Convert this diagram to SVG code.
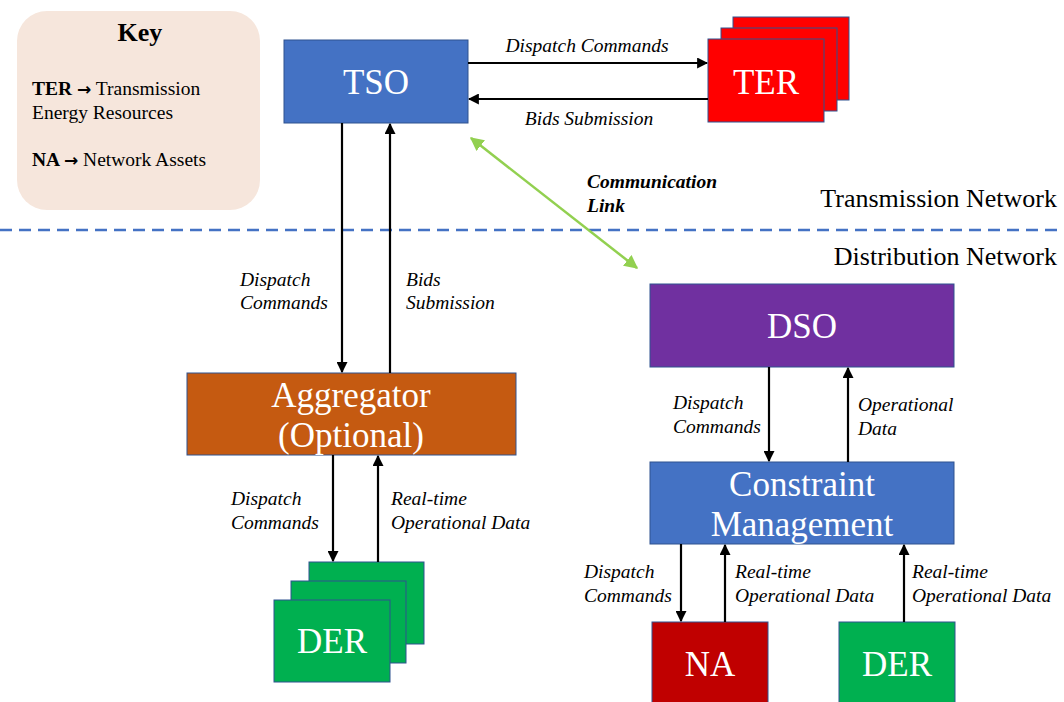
<svg xmlns="http://www.w3.org/2000/svg" width="1064" height="702" viewBox="0 0 1064 702">
<defs>
<marker id="ah" viewBox="0 0 10 10" refX="9" refY="5" markerWidth="5" markerHeight="5" orient="auto-start-reverse" markerUnits="strokeWidth"><path d="M0,0 L10,5 L0,10 z" fill="#000"/></marker>
<marker id="gh" viewBox="0 0 10 10" refX="9" refY="5" markerWidth="5.5" markerHeight="5.5" orient="auto-start-reverse" markerUnits="strokeWidth"><path d="M0,0 L10,5 L0,10 z" fill="#92D050"/></marker>
<style>
.box{stroke:#2F528F;stroke-width:1}
.nt{font-family:"Liberation Serif","Times New Roman",serif;font-size:35px;fill:#fff;text-anchor:middle}
.lb{font-family:"Liberation Serif","Times New Roman",serif;font-size:19.5px;font-style:italic;fill:#000}
.ar{stroke:#000;stroke-width:2.2;fill:none;marker-end:url(#ah)}
.kt{font-family:"Liberation Serif","Times New Roman",serif;font-size:19.5px;fill:#000}
.kb{font-family:"DejaVu Sans",sans-serif;font-weight:bold;font-size:17px}
.nw{font-family:"Liberation Serif","Times New Roman",serif;font-size:26px;fill:#000;text-anchor:end}
</style>
</defs>
<rect width="1064" height="702" fill="#fff"/>
<g id="key">
<rect x="17" y="11" width="243" height="199" rx="30" fill="#F6E6DC"/>
<text x="140" y="41" text-anchor="middle" style="font-family:'Liberation Serif',serif;font-size:26px;font-weight:bold">Key</text>
<text x="32" y="95" class="kt"><tspan font-weight="bold">TER </tspan><tspan class="kb">→</tspan> Transmission</text>
<text x="32" y="119" class="kt">Energy Resources</text>
<text x="32" y="166" class="kt"><tspan font-weight="bold">NA </tspan><tspan class="kb">→</tspan> Network Assets</text>
</g>
<g id="divider">
<line x1="0" y1="230" x2="1064" y2="230" stroke="#4472C4" stroke-width="2.5" stroke-dasharray="12,7"/>
<text x="1057" y="207" class="nw">Transmission Network</text>
<text x="1057" y="265" class="nw">Distribution Network</text>
</g>
<g id="tso">
<rect x="284" y="40" width="184" height="83" class="box" fill="#4472C4"/>
<text x="376" y="94" class="nt">TSO</text>
</g>
<g id="ter">
<rect x="733" y="17" width="116" height="83" class="box" fill="#FF0000"/>
<rect x="721" y="28" width="116" height="83" class="box" fill="#FF0000"/>
<rect x="708" y="39" width="116" height="83" class="box" fill="#FF0000"/>
<text x="766" y="94" class="nt">TER</text>
</g>
<g id="aggregator">
<rect x="187" y="373" width="329" height="82" class="box" fill="#C55A11"/>
<text x="351" y="407" class="nt">Aggregator</text>
<text x="351" y="447" class="nt">(Optional)</text>
</g>
<g id="der-left">
<rect x="309" y="562" width="115" height="82" class="box" fill="#00B050"/>
<rect x="291" y="581" width="115" height="82" class="box" fill="#00B050"/>
<rect x="274" y="600" width="116" height="82" class="box" fill="#00B050"/>
<text x="332" y="653" class="nt">DER</text>
</g>
<g id="dso">
<rect x="650" y="284" width="304" height="83" class="box" fill="#7030A0"/>
<text x="802" y="338" class="nt">DSO</text>
</g>
<g id="constraint">
<rect x="650" y="462" width="304" height="82" class="box" fill="#4472C4"/>
<text x="802" y="496" class="nt">Constraint</text>
<text x="802" y="536" class="nt">Management</text>
</g>
<g id="na">
<rect x="652" y="622" width="116" height="82" class="box" fill="#C00000"/>
<text x="710" y="676" class="nt">NA</text>
</g>
<g id="der-right">
<rect x="839" y="622" width="116" height="82" class="box" fill="#00B050"/>
<text x="897" y="676" class="nt">DER</text>
</g>
<g id="connectors">
<line x1="468" y1="63" x2="707" y2="63" class="ar"/>
<line x1="708" y1="99" x2="469" y2="99" class="ar"/>
<line x1="342" y1="123" x2="342" y2="372" class="ar"/>
<line x1="390" y1="373" x2="390" y2="124" class="ar"/>
<line x1="333" y1="455" x2="333" y2="561" class="ar"/>
<line x1="378" y1="562" x2="378" y2="456" class="ar"/>
<line x1="769" y1="367" x2="769" y2="461" class="ar"/>
<line x1="848" y1="462" x2="848" y2="368" class="ar"/>
<line x1="681" y1="544" x2="681" y2="621" class="ar"/>
<line x1="725" y1="622" x2="725" y2="545" class="ar"/>
<line x1="904" y1="622" x2="904" y2="545" class="ar"/>
<line x1="471" y1="138" x2="637" y2="268" stroke="#92D050" stroke-width="2.5" marker-start="url(#gh)" marker-end="url(#gh)"/>
</g>
<g id="labels">
<text x="587" y="52" class="lb" text-anchor="middle">Dispatch Commands</text>
<text x="589" y="125" class="lb" text-anchor="middle">Bids Submission</text>
<text x="240" y="286" class="lb">Dispatch</text>
<text x="240" y="309" class="lb">Commands</text>
<text x="406" y="286" class="lb">Bids</text>
<text x="406" y="309" class="lb">Submission</text>
<text x="231" y="505" class="lb">Dispatch</text>
<text x="231" y="529" class="lb">Commands</text>
<text x="391" y="505" class="lb">Real-time</text>
<text x="391" y="529" class="lb">Operational Data</text>
<text x="673" y="409" class="lb">Dispatch</text>
<text x="673" y="433" class="lb">Commands</text>
<text x="858" y="411" class="lb">Operational</text>
<text x="858" y="435" class="lb">Data</text>
<text x="584" y="578" class="lb">Dispatch</text>
<text x="584" y="602" class="lb">Commands</text>
<text x="735" y="578" class="lb">Real-time</text>
<text x="735" y="602" class="lb">Operational Data</text>
<text x="912" y="578" class="lb">Real-time</text>
<text x="912" y="602" class="lb">Operational Data</text>
<text x="587" y="188" class="lb" font-weight="bold">Communication</text>
<text x="587" y="212" class="lb" font-weight="bold">Link</text>
</g>
</svg>
